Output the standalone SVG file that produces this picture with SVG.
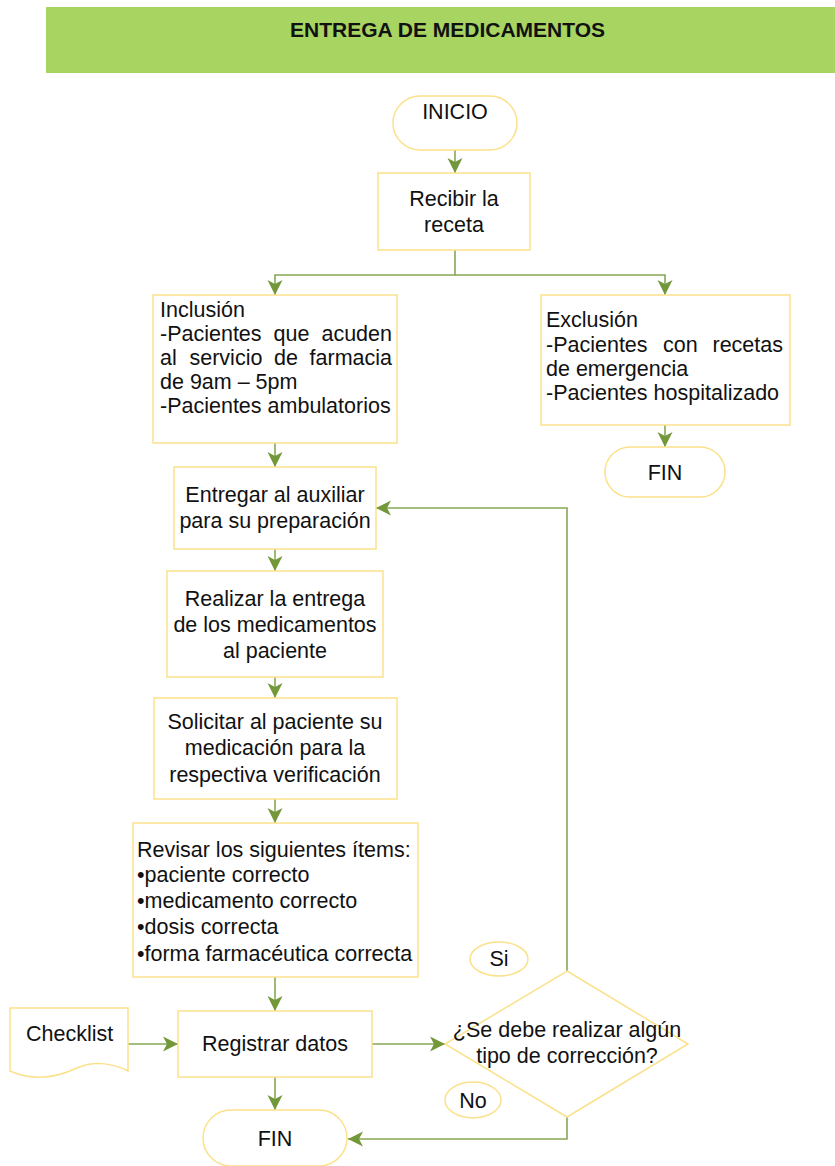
<svg xmlns="http://www.w3.org/2000/svg" width="835" height="1166" viewBox="0 0 835 1166">
<style>
.box{fill:#fff;stroke:#fbe18b;stroke-width:1.5}
.t{font-family:"Liberation Sans",Arial,sans-serif;font-size:21.5px;fill:#111}
.c{text-anchor:middle}
.con{fill:none;stroke:#86a856;stroke-width:1.6}
</style>
<defs>
<marker id="ah" markerUnits="userSpaceOnUse" markerWidth="16" markerHeight="16" refX="15" refY="7.5" orient="auto" viewBox="0 0 16 15">
<path d="M0,0 L15,7.5 L0,15 L4,7.5 z" fill="#72983a"/>
</marker>
</defs>
<rect x="46" y="7" width="789" height="66" fill="#a8d461"/>
<text x="447.5" y="37" class="t c" style="font-weight:bold;font-size:21px">ENTREGA DE MEDICAMENTOS</text>

<g id="connectors">
<path class="con" d="M455,150 V173" marker-end="url(#ah)"/>
<path class="con" d="M455,250 V275 H275 V295" marker-end="url(#ah)"/>
<path class="con" d="M455,275 H665 V295" marker-end="url(#ah)"/>
<path class="con" d="M665,425 V447" marker-end="url(#ah)"/>
<path class="con" d="M275,443 V467" marker-end="url(#ah)"/>
<path class="con" d="M275,549 V571" marker-end="url(#ah)"/>
<path class="con" d="M275,677 V698" marker-end="url(#ah)"/>
<path class="con" d="M275,799 V823" marker-end="url(#ah)"/>
<path class="con" d="M275,977 V1011" marker-end="url(#ah)"/>
<path class="con" d="M128,1044 H178" marker-end="url(#ah)"/>
<path class="con" d="M372,1044 H445" marker-end="url(#ah)"/>
<path class="con" d="M567,971 V508 H376" marker-end="url(#ah)"/>
<path class="con" d="M567,1117 V1139 H348" marker-end="url(#ah)"/>
<path class="con" d="M275,1077 V1110" marker-end="url(#ah)"/>
</g>

<g id="inicio">
<rect class="box" x="393" y="96" width="124" height="54" rx="27"/>
<text class="t c" x="455" y="119">INICIO</text>
</g>
<g id="recibir">
<rect class="box" x="378" y="173" width="152" height="77"/>
<text class="t c" x="454" y="206">Recibir la</text>
<text class="t c" x="454" y="232">receta</text>
</g>
<g id="inclusion">
<rect class="box" x="153" y="295" width="244" height="148"/>
<text class="t" x="160" y="317">Inclusión</text>
<text class="t" y="341"><tspan x="160">-Pacientes</tspan><tspan x="273.5">que</tspan><tspan x="392" text-anchor="end">acuden</tspan></text>
<text class="t" y="365"><tspan x="160">al</tspan><tspan x="189.5">servicio</tspan><tspan x="274">de</tspan><tspan x="392" text-anchor="end">farmacia</tspan></text>
<text class="t" x="160" y="389">de 9am – 5pm</text>
<text class="t" x="160" y="413">-Pacientes ambulatorios</text>
</g>
<g id="exclusion">
<rect class="box" x="541" y="295" width="249" height="130"/>
<text class="t" x="546" y="327">Exclusión</text>
<text class="t" y="352"><tspan x="546">-Pacientes</tspan><tspan x="663">con</tspan><tspan x="783" text-anchor="end">recetas</tspan></text>
<text class="t" x="546" y="376">de emergencia</text>
<text class="t" x="546" y="400">-Pacientes hospitalizado</text>
</g>
<g id="fin1">
<rect class="box" x="605" y="447" width="120" height="50" rx="25"/>
<text class="t c" x="665" y="480">FIN</text>
</g>
<g id="entregar">
<rect class="box" x="174" y="467" width="202" height="82"/>
<text class="t c" x="275" y="502">Entregar al auxiliar</text>
<text class="t c" x="275" y="528">para su preparación</text>
</g>
<g id="realizar">
<rect class="box" x="167" y="571" width="216" height="106"/>
<text class="t c" x="275" y="606">Realizar la entrega</text>
<text class="t c" x="275" y="632">de los medicamentos</text>
<text class="t c" x="275" y="658">al paciente</text>
</g>
<g id="solicitar">
<rect class="box" x="154" y="698" width="243" height="101"/>
<text class="t c" x="275" y="729">Solicitar al paciente su</text>
<text class="t c" x="275" y="755">medicación para la</text>
<text class="t c" x="275" y="782">respectiva verificación</text>
</g>
<g id="revisar">
<rect class="box" x="133" y="823" width="285" height="154"/>
<text class="t" x="137" y="857">Revisar los siguientes ítems:</text>
<text class="t" x="137" y="882">•paciente correcto</text>
<text class="t" x="137" y="908">•medicamento correcto</text>
<text class="t" x="137" y="934">•dosis correcta</text>
<text class="t" x="137" y="961">•forma farmacéutica correcta</text>
</g>
<g id="checklist">
<path class="box" d="M10,1008 H128 V1071 C115,1064 95,1060 77,1068 C58,1077 35,1082 10,1071 Z"/>
<text class="t" x="26" y="1041">Checklist</text>
</g>
<g id="registrar">
<rect class="box" x="178" y="1011" width="194" height="66"/>
<text class="t c" x="275" y="1051">Registrar datos</text>
</g>
<g id="decision">
<path class="box" d="M567,971 L688,1044 L567,1117 L445,1044 Z" style="fill:none"/>
<text class="t c" x="567" y="1037">¿Se debe realizar algún</text>
<text class="t c" x="567" y="1063">tipo de corrección?</text>
</g>
<g id="si">
<ellipse class="box" cx="499" cy="959" rx="29" ry="17"/>
<text class="t c" x="499" y="966">Si</text>
</g>
<g id="no">
<ellipse class="box" cx="473" cy="1100" rx="28" ry="18"/>
<text class="t c" x="473" y="1108">No</text>
</g>
<g id="fin2">
<rect class="box" x="203" y="1110" width="144" height="56" rx="28"/>
<text class="t c" x="275" y="1146">FIN</text>
</g>
</svg>
